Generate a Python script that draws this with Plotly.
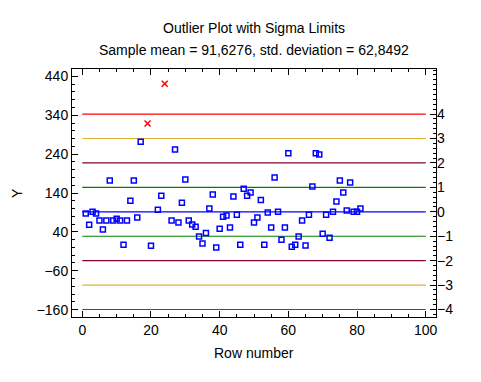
import plotly.graph_objects as go

# ---- data ----
rows = [1, 2, 3, 4, 5, 6, 7, 8, 9, 10, 11, 12, 13, 14, 15, 16, 17, 19, 20, 22, 23, 24,
        26, 27, 28, 29, 30, 31, 32, 33, 34, 35, 36, 37, 38, 39, 40, 41, 42, 43, 44, 45,
        46, 47, 48, 49, 50, 51, 52, 53, 54, 55, 56, 57, 58, 59, 60, 61, 62, 63, 64, 65,
        66, 67, 68, 69, 70, 71, 72, 73, 74, 75, 76, 77, 78, 79, 80, 81]
values = [87, 58, 92, 87, 69, 46, 69, 172, 69, 74, 69, 7, 69, 120, 172, 77, 272, 319, 4, 97, 133, 421,
          69, 252, 64, 115, 175, 69, 59, 53, 28, 10, 37, 100, 136, 0, 48, 79, 82, 51, 131, 84,
          7, 151, 133, 141, 64, 77, 122, 7, 90, 51, 180, 92, 20, 51, 242, 2, 7, 28, 69, 5,
          84, 157, 242, 239, 35, 84, 25, 92, 118, 172, 141, 95, 167, 92, 92, 100]
sample_mean = 91.6276
std_dev = 62.8492
sigma_levels = [4, 3, 2, 1, 0, -1, -2, -3, -4]
sigma_colors = {4: "#FF0000", 3: "#E0B030", 2: "#800030", 1: "#008000", 0: "#0000FF"}
x_limits = [0, 100]
y_range = [-179, 459]

# ---- figure ----
fig = go.Figure()

for k in sigma_levels:
    yv = sample_mean + k * std_dev
    fig.add_trace(go.Scatter(x=x_limits, y=[yv, yv], mode="lines",
                             line=dict(color=sigma_colors[abs(k)], width=1.2),
                             hoverinfo="skip", showlegend=False, cliponaxis=False))

norm_x, norm_y, out_x, out_y = [], [], [], []
for r, v in zip(rows, values):
    if abs(v - sample_mean) / std_dev > 3:
        out_x.append(r); out_y.append(v)
    else:
        norm_x.append(r); norm_y.append(v)

fig.add_trace(go.Scatter(x=norm_x, y=norm_y, mode="markers",
                         marker=dict(symbol="square-open", size=5, color="#0000FF",
                                     line=dict(width=1.5, color="#0000FF")),
                         showlegend=False))
fig.add_trace(go.Scatter(x=out_x, y=out_y, mode="markers",
                         marker=dict(symbol="x-thin-open", size=6, color="#FF0000",
                                     line=dict(width=1.5, color="#FF0000")),
                         showlegend=False))

# invisible trace to activate the sigma axis
s_lo = (y_range[0] - sample_mean) / std_dev
s_hi = (y_range[1] - sample_mean) / std_dev
fig.add_trace(go.Scatter(x=[50], y=[0], yaxis="y2", mode="markers",
                         marker=dict(opacity=0), hoverinfo="skip", showlegend=False))

font = dict(family="Liberation Sans, Arial, sans-serif", size=14, color="#000000")

fig.update_layout(
    width=473, height=374,
    margin=dict(l=64, r=45, t=61, b=65, autoexpand=False),
    paper_bgcolor="white", plot_bgcolor="white",
    font=font,
    xaxis=dict(range=[-3, 103], tickvals=[0, 20, 40, 60, 80, 100],
               ticks="inside", ticklen=6, tickcolor="black",
               minor=dict(dtick=5, ticks="inside", ticklen=3, tickcolor="black"),
               showline=True, linecolor="black", linewidth=1, mirror="ticks",
               showgrid=False, zeroline=False, automargin=False),
    yaxis=dict(range=y_range, tickvals=[-160, -60, 40, 140, 240, 340, 440],
               ticks="inside", ticklen=6, tickcolor="black",
               minor=dict(dtick=20, tick0=0, ticks="inside", ticklen=3, tickcolor="black"),
               showline=True, linecolor="black", linewidth=1, mirror=True,
               showgrid=False, zeroline=False, automargin=False),
    yaxis2=dict(range=[s_lo, s_hi], overlaying="y", side="right",
                tickvals=[-4, -3, -2, -1, 0, 1, 2, 3, 4], ticks="inside", ticklen=6, tickcolor="black",
                minor=dict(dtick=0.2, tick0=0, ticks="inside", ticklen=3, tickcolor="black"),
                showline=False, showgrid=False, zeroline=False, automargin=False),
    annotations=[
        dict(text="Outlier Plot with Sigma Limits", xref="paper", yref="paper",
             x=0.5, y=1, yshift=41, xanchor="center", yanchor="middle",
             showarrow=False, font=font),
        dict(text="Sample mean = 91,6276, std. deviation = 62,8492", xref="paper", yref="paper",
             x=0.5, y=1, yshift=19, xanchor="center", yanchor="middle",
             showarrow=False, font=font),
        dict(text="Row number", xref="paper", yref="paper",
             x=0.5, y=0, yshift=-36, xanchor="center", yanchor="middle",
             showarrow=False, font=font),
        dict(text="Y", xref="paper", yref="paper", textangle=-90,
             x=0, xshift=-55, y=0.5, xanchor="center", yanchor="middle",
             showarrow=False, font=font),
    ],
)

fig.write_html("out.html")
